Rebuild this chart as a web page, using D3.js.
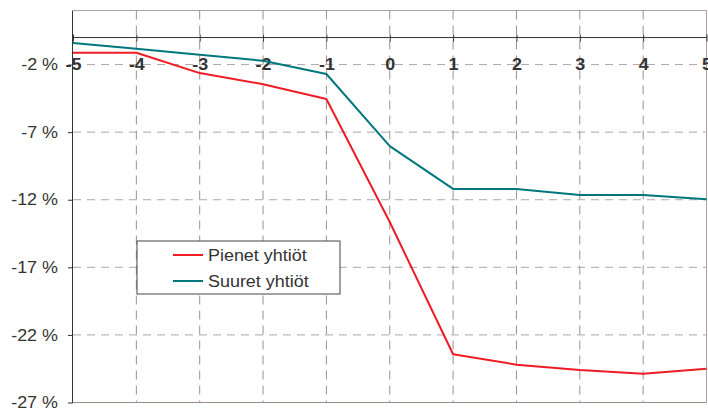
<!DOCTYPE html>
<html>
<head>
<meta charset="utf-8">
<script src="https://cdn.jsdelivr.net/npm/d3@7"></script>
<style>
  html, body { margin: 0; padding: 0; background: #fff; }
  svg { display: block; font-family: "Liberation Sans", Arial, sans-serif; }
</style>
</head>
<body>
<svg id="chart" width="708" height="410"></svg>
<script>
// Years relative to the event
const periods = [-5, -4, -3, -2, -1, 0, 1, 2, 3, 4, 5];
// Cumulative change, percent
const smallFirms = [-1.12, -1.12, -2.63, -3.45, -4.55, -13.65, -23.43, -24.2, -24.6, -24.87, -24.5];
const largeFirms = [-0.41, -0.83, -1.27, -1.72, -2.7, -8.03, -11.2, -11.2, -11.65, -11.65, -11.97];
const yTickValues = [-2, -7, -12, -17, -22, -27];
const seriesNames = ["Pienet yhtiöt", "Suuret yhtiöt"];
const seriesColors = ["#ee1c25", "#00777d"];

const svg = d3.select("#chart");
const plotLeft = 73, plotRight = 706.5, plotTop = 10.5, plotBottom = 402.5;
const textStretch = 1.12; // glyphs are drawn slightly wide

function widen(sel) {
  sel.each(function () {
    const len = this.getComputedTextLength();
    d3.select(this).attr("textLength", len * textStretch).attr("lengthAdjust", "spacingAndGlyphs");
  });
}

const x = d3.scaleLinear().domain([-5, 5]).range([plotLeft, plotRight]);
const y = d3.scaleLinear().domain([2, -27]).range([plotTop, plotBottom]);

// Frame
svg.append("line").attr("x1", plotLeft).attr("x2", plotRight).attr("y1", plotTop).attr("y2", plotTop)
  .attr("stroke", "#a9a3a3").attr("stroke-width", 1);
svg.append("line").attr("x1", plotRight).attr("x2", plotRight).attr("y1", plotTop).attr("y2", plotBottom)
  .attr("stroke", "#a9a3a3").attr("stroke-width", 1);
svg.append("line").attr("x1", plotLeft).attr("x2", plotRight).attr("y1", plotBottom).attr("y2", plotBottom)
  .attr("stroke", "#9e8c8c").attr("stroke-width", 1.2);

// Vertical dashed gridlines
svg.append("g").selectAll("line").data(periods.slice(1, -1)).join("line")
  .attr("x1", d => x(d)).attr("x2", d => x(d))
  .attr("y1", plotTop).attr("y2", plotBottom)
  .attr("stroke", "#9e8f8f").attr("stroke-width", 1)
  .attr("stroke-dasharray", "9,6");

// Horizontal dashed gridlines
svg.append("g").selectAll("line").data(yTickValues.slice(0, -1)).join("line")
  .attr("x1", plotLeft).attr("x2", plotRight)
  .attr("y1", d => y(d)).attr("y2", d => y(d))
  .attr("stroke", "#b0a8a8").attr("stroke-width", 1)
  .attr("stroke-dasharray", "8,6");

// Y axis
const yAxis = d3.axisLeft(y).tickValues(yTickValues).tickSize(5).tickPadding(10)
  .tickFormat(d => d + " %");
const gy = svg.append("g").attr("transform", `translate(${plotLeft},0)`).call(yAxis);
gy.select(".domain").attr("stroke", "#333").attr("d", `M-0.5,${plotTop}V${plotBottom}`);
gy.selectAll(".tick line").attr("stroke", "#333");
gy.selectAll(".tick text").attr("fill", "#333").attr("font-size", 16)
  .attr("font-family", "Liberation Sans, Arial, sans-serif").call(widen);

// X axis along zero
const xAxis = d3.axisBottom(x).tickValues(periods).tickSize(0).tickFormat(d => String(d));
const gx = svg.append("g").attr("transform", `translate(0,${y(0)})`).call(xAxis);
gx.select(".domain").attr("stroke", "#333").attr("d", `M${plotLeft},0H${plotRight}`);
gx.selectAll(".tick line").remove();
gx.selectAll(".tick").append("line").attr("y1", -3).attr("y2", 4).attr("stroke", "#333");
gx.selectAll(".tick text")
  .attr("y", y(-2) - y(0)).attr("dy", "0.35em")
  .attr("fill", "#333").attr("font-size", 16).attr("font-weight", "bold")
  .attr("font-family", "Liberation Sans, Arial, sans-serif").call(widen);

// Series lines
const line = d3.line().x((d, i) => x(periods[i])).y(d => y(d));
[smallFirms, largeFirms].forEach((s, i) => {
  svg.append("path").datum(s)
    .attr("fill", "none").attr("stroke", seriesColors[i])
    .attr("stroke-width", 2).attr("stroke-linejoin", "round")
    .attr("d", line);
});

// Legend
const lg = svg.append("g").attr("transform", "translate(137,241)");
lg.append("rect").attr("x", 0).attr("y", 0).attr("width", 203).attr("height", 53)
  .attr("fill", "#fff").attr("stroke", "#444").attr("stroke-width", 1);
seriesNames.forEach((name, i) => {
  const cy = 14 + i * 26;
  lg.append("line").attr("x1", 36).attr("x2", 66).attr("y1", cy).attr("y2", cy)
    .attr("stroke", seriesColors[i]).attr("stroke-width", 2);
  lg.append("text").attr("x", 71).attr("y", cy).attr("dy", "0.35em")
    .attr("font-size", 16).attr("fill", "#333").text(name).call(widen);
});
</script>
</body>
</html>
